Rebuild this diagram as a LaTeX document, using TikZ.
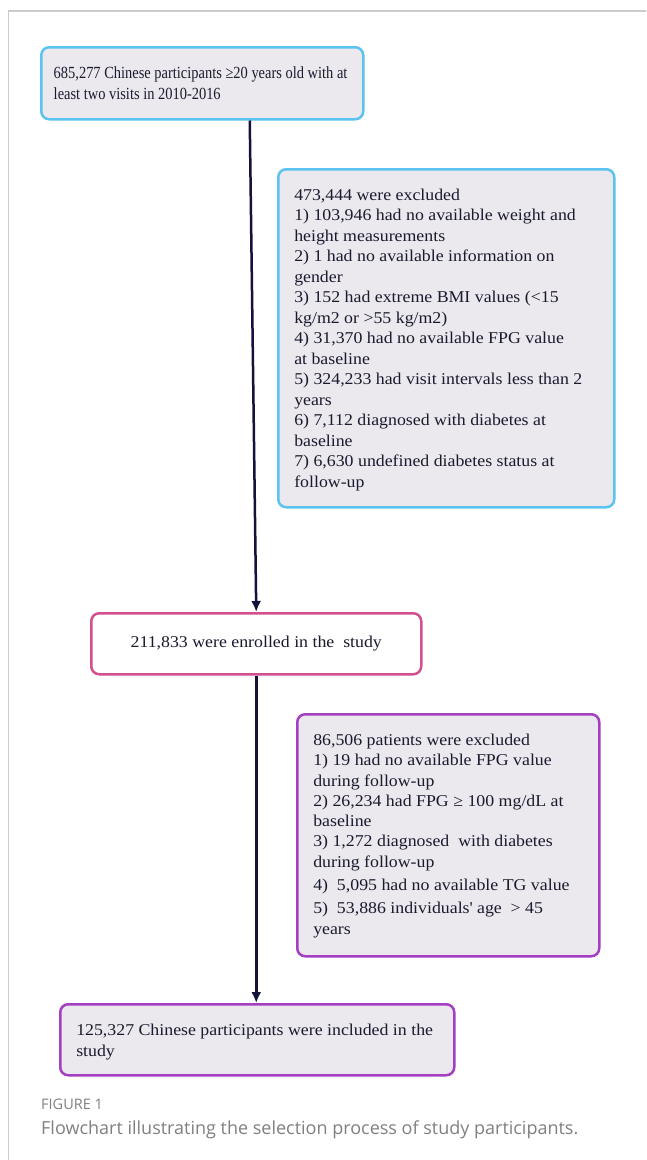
\documentclass[tikz,border=0pt]{standalone}
\usepackage{fontspec}
\setmainfont{Liberation Serif}
\newfontfamily\wideserif[FakeStretch=1.08]{Liberation Serif}
\newfontfamily\narrowserif[FakeStretch=0.85]{Liberation Serif}
\newfontfamily\capfont{Open Sans}
\usetikzlibrary{arrows.meta}
\definecolor{boxfill}{HTML}{EBE9ED}
\definecolor{cblue}{HTML}{5BC3F0}
\definecolor{cpink}{HTML}{D2508E}
\definecolor{cpurple}{HTML}{A33FC0}
\definecolor{arrowc}{HTML}{12123A}
\definecolor{framec}{HTML}{CCCCCC}
\definecolor{txtc}{HTML}{1A1A2E}
\definecolor{capgray}{HTML}{808080}
\newcommand\boxtxt[5]{\parbox[c][#2pt][t]{#1pt}{\vspace*{#3pt}\leftskip=#4pt\parindent=0pt #5}}
\begin{document}
\begin{tikzpicture}[x=1pt,y=-1pt,
  box/.style={draw, rounded corners=8pt, line width=2.5pt, fill=boxfill, inner sep=0pt, anchor=north west, text=txtc},
  arr/.style={draw=arrowc, line width=2.5pt, -{Latex[length=11pt,width=10pt]}},
  captxt/.style={anchor=base west, inner sep=0pt, text=capgray}]
\useasboundingbox[fill=white] (0,0) rectangle (646,1160);
\draw[framec, line width=1.2pt] (646,11) -- (8.5,11) -- (8.5,1160);

\node[box, draw=cblue] (start) at (40,46) {\boxtxt{322}{72}{19.5}{12.5}{\narrowserif\fontsize{17}{21}\selectfont
685,277 Chinese participants ≥20 years old with at\\
least two visits in 2010-2016}};

\node[box, draw=cblue] (ex1) at (277,168) {\boxtxt{336}{338}{19.7}{16}{\wideserif\fontsize{16.5}{20.5}\selectfont
473,444 were excluded\\
1) 103,946 had no available weight and\\
height measurements\\
2) 1 had no available information on\\
gender\\
3) 152 had extreme BMI values (<15\\
kg/m2 or >55 kg/m2)\\
4) 31,370 had no available FPG value\\
at baseline\\
5) 324,233 had visit intervals less than 2\\
years\\
6) 7,112 diagnosed with diabetes at\\
baseline\\
7) 6,630 undefined diabetes status at\\
follow-up}};

\node[box, draw=cpink, fill=white, minimum width=330pt, minimum height=61pt,
  font=\wideserif\fontsize{16.5}{20}\selectfont] (enr) at (90,612) {211,833 were enrolled in the~ study};

\node[box, draw=cpurple] (ex2) at (296,713) {\boxtxt{302}{242}{19.7}{16}{\wideserif\fontsize{16.5}{20.3}\selectfont
86,506 patients were excluded\\
1) 19 had no available FPG value\\
during follow-up\\
2) 26,234 had FPG ≥ 100 mg/dL at\\
baseline\\
3) 1,272 diagnosed~ with diabetes\\
during follow-up\\[2.7pt]
4)~ 5,095 had no available TG value\\[3pt]
5)~ 53,886 individuals\textquotesingle{} age~ > 45\\[1pt]
years}};

\node[box, draw=cpurple] (final) at (59,1003) {\boxtxt{394}{71}{19.7}{16}{\wideserif\fontsize{16.5}{21}\selectfont
125,327 Chinese participants were included in the\\
study}};

\draw[arr] ([xshift=47.5pt]start.south) -- (enr.north);
\draw[arr] (enr.south) -- (enr.south |- final.north);

\node[captxt, font=\capfont\fontsize{14.5}{14.5}\selectfont] (figlab) at (41,1109) {FIGURE 1};
\node[captxt, font=\capfont\fontsize{18}{18}\selectfont] (figcap) at (41,1134) {Flowchart illustrating the selection process of study participants.};
\end{tikzpicture}
\end{document}
